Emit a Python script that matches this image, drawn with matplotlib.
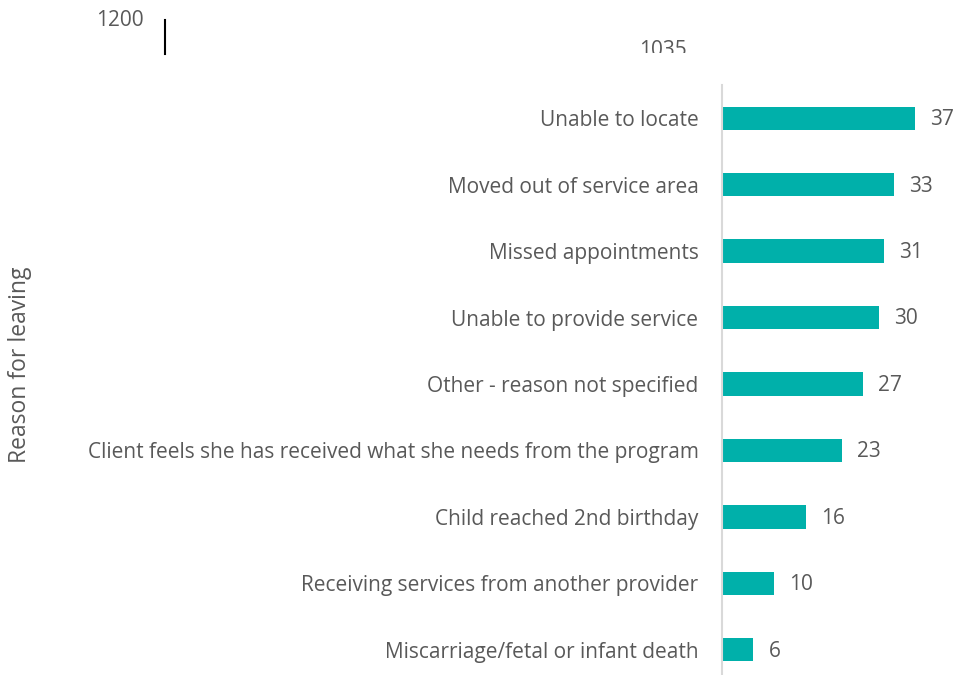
import matplotlib
matplotlib.use("Agg")
import matplotlib.pyplot as plt
from matplotlib.patches import Rectangle

categories = [
    "Unable to locate",
    "Moved out of service area",
    "Missed appointments",
    "Unable to provide service",
    "Other - reason not specified",
    "Client feels she has received what she needs from the program",
    "Child reached 2nd birthday",
    "Receiving services from another provider",
    "Miscarriage/fetal or infant death",
]
counts = [37, 33, 31, 30, 27, 23, 16, 10, 6]
stray_labels = ["1200", "1035"]

W, H = 957, 675
fig = plt.figure(figsize=(W / 100, H / 100), dpi=100)
plt.rcParams["font.family"] = ["Open Sans", "DejaVu Sans"]
text_color = "#595959"
bar_color = "#00B0AA"

left, right = 722, 957
top, bottom = 85, 683
ax = fig.add_axes([left / W, 1 - bottom / H, (right - left) / W, (bottom - top) / H])

y = list(range(len(categories)))
ax.barh(y, counts, height=0.35, color=bar_color)
ax.set_ylim(len(categories) - 0.5, -0.5)
ax.set_xlim(0, (right - left) / 5.22)

for yi, v in zip(y, counts):
    ax.annotate(str(v), (v, yi), xytext=(11, -1), textcoords="offset points",
                va="center", ha="left", fontsize=15, color=text_color)

ax.set_yticks(y)
ax.set_yticklabels(categories, fontsize=15, color=text_color)
ax.tick_params(axis="y", length=0, pad=17)
ax.set_xticks([])
for s in ["top", "right", "bottom"]:
    ax.spines[s].set_visible(False)
ax.spines["left"].set_color("#D9D9D9")
ax.spines["left"].set_linewidth(1.5)

fig.text(20 / W, 1 - 365 / H, "Reason for leaving", rotation=90, ha="center",
         va="center", fontsize=16.5, color=text_color)

# leftover labels at the top of the canvas
fig.text(120 / W, 1 - 20 / H, stray_labels[0], ha="center", va="center",
         fontsize=15, color=text_color)
fig.add_artist(plt.Line2D([165 / W, 165 / W], [1 - 20 / H, 1 - 54 / H],
                          color="black", linewidth=1.5))
t = fig.text(663 / W, 1 - 50 / H, stray_labels[1], ha="center", va="center",
             fontsize=15, color=text_color)
clip = Rectangle((0, 1 - 53 / H), 1, 53 / H, transform=fig.transFigure,
                 facecolor="none", edgecolor="none")
fig.add_artist(clip)
t.set_clip_path(clip)

fig.savefig("out.png", dpi=100)
